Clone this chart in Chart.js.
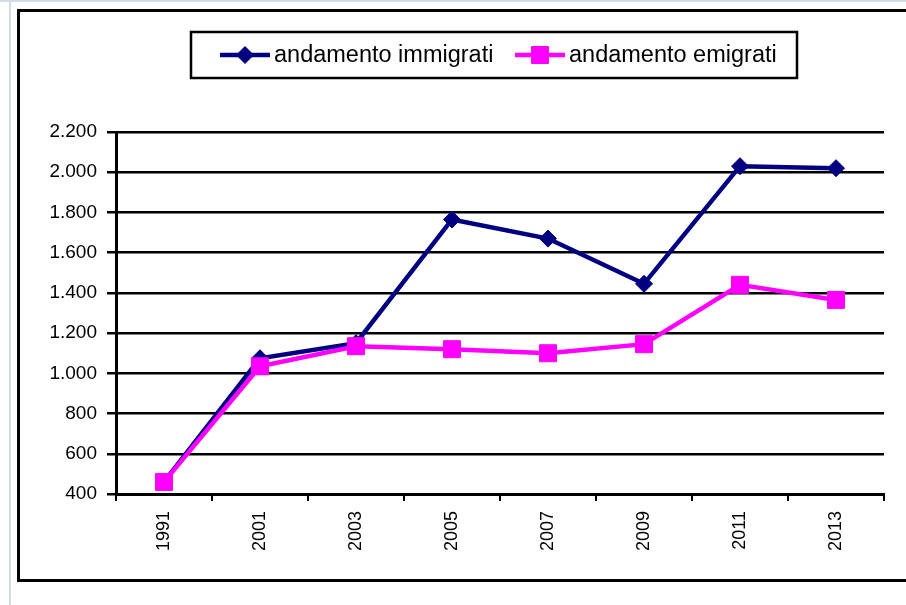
<!DOCTYPE html>
<html lang="it">
<head>
<meta charset="utf-8">
<title>Andamento immigrati ed emigrati</title>
<script src="https://cdn.jsdelivr.net/npm/chart.js@4/dist/chart.umd.min.js"></script>
<style>
    html, body { margin: 0; padding: 0; background: #fff; }
    #wrap { width: 906px; height: 605px; }
</style>
</head>
<body>
<div id="wrap"><canvas id="trendChart" width="906" height="605"></canvas></div>
<script>
const years = ["1991", "2001", "2003", "2005", "2007", "2009", "2011", "2013"];
const immigrati = [460, 1075, 1150, 1765, 1670, 1445, 2030, 2020];
const emigrati = [460, 1035, 1135, 1120, 1100, 1145, 1440, 1365];
const yMin = 400;
const yMax = 2200;
const yStep = 200;

const FONT = "'Liberation Sans', Arial, sans-serif";

// 2.200 style thousand separator
function formatTick(v) {
    return String(Math.round(v)).replace(/\B(?=(\d{3})+(?!\d))/g, ".");
}

/* ===================== FRAME ===================== */
const framePlugin = {
    id: "frame",
    beforeDraw(chart) {
        const ctx = chart.ctx;
        ctx.save();
        ctx.fillStyle = "#fff";
        ctx.fillRect(0, 0, chart.width, chart.height);

        // pale sheet edges
        ctx.fillStyle = "#d3dbe8";
        ctx.fillRect(0, 0, chart.width, 2);
        ctx.fillRect(9, 0, 2, chart.height);

        // chart border
        ctx.strokeStyle = "#000";
        ctx.lineWidth = 3;
        ctx.strokeRect(18.5, 10.5, chart.width + 20, 570);
        ctx.restore();
    },
};

/* ===================== LEGEND ===================== */
const legendPlugin = {
    id: "boxLegend",
    afterDraw(chart) {
        const ctx = chart.ctx;
        const box = { x: 191, y: 32, w: 606, h: 46 };
        const midY = box.y + box.h / 2;
        const starts = [220, 515];

        ctx.save();
        ctx.fillStyle = "#fff";
        ctx.fillRect(box.x, box.y, box.w, box.h);
        ctx.strokeStyle = "#000";
        ctx.lineWidth = 2.5;
        ctx.strokeRect(box.x, box.y, box.w, box.h);

        chart.data.datasets.forEach((ds, i) => {
            const x0 = starts[i];
            ctx.strokeStyle = ds.borderColor;
            ctx.lineWidth = ds.borderWidth;
            ctx.beginPath();
            ctx.moveTo(x0, midY);
            ctx.lineTo(x0 + 50, midY);
            ctx.stroke();

            ctx.fillStyle = ds.pointBackgroundColor;
            ctx.strokeStyle = ds.pointBorderColor;
            ctx.lineWidth = ds.pointBorderWidth;
            Chart.helpers.drawPoint(ctx, {
                pointStyle: ds.pointStyle,
                radius: ds.pointRadius,
                borderWidth: ds.pointBorderWidth,
                rotation: 0,
            }, x0 + 25, midY);

            ctx.fillStyle = "#000";
            ctx.font = "23.5px " + FONT;
            ctx.textAlign = "left";
            ctx.textBaseline = "middle";
            ctx.fillText(ds.label, x0 + 54, midY + 1);
        });
        ctx.restore();
    },
};

/* ===================== CHART ===================== */
const canvas = document.getElementById("trendChart");

new Chart(canvas, {
    type: "line",
    data: {
        labels: years,
        datasets: [
            {
                label: "andamento immigrati",
                data: immigrati,
                borderColor: "#000080",
                backgroundColor: "#000080",
                borderWidth: 4.5,
                pointStyle: "rectRot",
                pointRadius: 8.5,
                pointBorderWidth: 1,
                pointBackgroundColor: "#000080",
                pointBorderColor: "#000080",
                tension: 0,
                order: 1,
            },
            {
                label: "andamento emigrati",
                data: emigrati,
                borderColor: "#ff00ff",
                backgroundColor: "#ff00ff",
                borderWidth: 4.5,
                pointStyle: "rect",
                pointRadius: 12,
                pointBorderWidth: 1,
                pointBackgroundColor: "#ff00ff",
                pointBorderColor: "#ff00ff",
                tension: 0,
                order: 0,
            },
        ],
    },
    options: {
        responsive: false,
        animation: false,
        events: [],
        layout: {
            padding: { left: 20, right: 22, top: 132, bottom: 20 },
        },
        plugins: {
            legend: { display: false },
            tooltip: { enabled: false },
        },
        scales: {
            x: {
                offset: true,
                afterFit(scale) { scale.height = 91; },
                border: { display: true, color: "#000", width: 3 },
                grid: {
                    offset: true,
                    drawOnChartArea: false,
                    drawTicks: true,
                    tickLength: 7,
                    color: "#000",
                    lineWidth: 2,
                },
                ticks: {
                    color: "#000",
                    font: { family: FONT, size: 18 },
                    minRotation: 90,
                    maxRotation: 90,
                    padding: 10,
                    autoSkip: false,
                },
            },
            y: {
                min: yMin,
                max: yMax,
                afterFit(scale) { scale.width = 96; },
                border: { display: true, color: "#000", width: 3 },
                grid: {
                    color: "#000",
                    lineWidth: 2.5,
                    tickLength: 9,
                    tickColor: "#000",
                },
                ticks: {
                    stepSize: yStep,
                    color: "#000",
                    font: { family: FONT, size: 19 },
                    padding: 10,
                    callback: (v) => formatTick(v),
                },
            },
        },
    },
    plugins: [framePlugin, legendPlugin],
});
</script>
</body>
</html>
